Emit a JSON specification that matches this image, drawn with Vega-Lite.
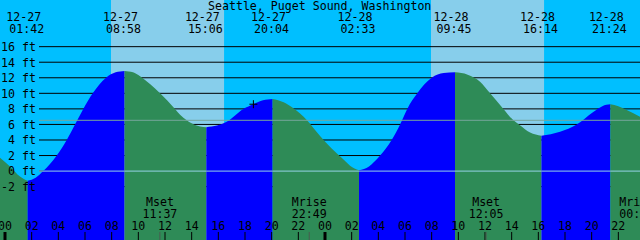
{
  "$schema": "https://vega.github.io/schema/vega-lite/v6.json",
  "width": 640,
  "height": 240,
  "autosize": {"type": "none"},
  "padding": 0,
  "background": "#00BFFF",
  "config": {"view": {"stroke": null}, "text": {"font": "DejaVu Sans Mono", "fontSize": 11.6, "color": "#000000"}},
  "datasets": {
    "daylight": [{"sunrise": 7.95, "sunset": 16.43}, {"sunrise": 31.95, "sunset": 40.43}],
    "levels": [
      {"ft": -2, "label": "-2 ft"}, {"ft": 0, "label": "0 ft"}, {"ft": 2, "label": "2 ft"}, {"ft": 4, "label": "4 ft"},
      {"ft": 6, "label": "6 ft"}, {"ft": 8, "label": "8 ft"}, {"ft": 10, "label": "10 ft"}, {"ft": 12, "label": "12 ft"},
      {"ft": 14, "label": "14 ft"}, {"ft": 16, "label": "16 ft"}
    ],
    "datums": [{"ft": 0, "name": "zero"}, {"ft": 6.53, "name": "mean"}],
    "tide": [
      {"t": -0.375, "ft": 1.7, "seg": "s0", "dir": "fall"}, {"t": 0.375, "ft": 0.6, "seg": "s0", "dir": "fall"}, {"t": 1.125, "ft": -0.7, "seg": "s0", "dir": "fall"}, {"t": 1.7, "ft": -1.25, "seg": "s0", "dir": "fall"},
      {"t": 1.7, "ft": -1.25, "seg": "s1", "dir": "rise"}, {"t": 2.3, "ft": -0.85, "seg": "s1", "dir": "rise"}, {"t": 2.87, "ft": 0, "seg": "s1", "dir": "rise"}, {"t": 3.88, "ft": 2, "seg": "s1", "dir": "rise"}, {"t": 4.63, "ft": 4, "seg": "s1", "dir": "rise"}, {"t": 5.25, "ft": 6, "seg": "s1", "dir": "rise"}, {"t": 5.87, "ft": 8, "seg": "s1", "dir": "rise"}, {"t": 6.58, "ft": 10, "seg": "s1", "dir": "rise"}, {"t": 7.58, "ft": 12, "seg": "s1", "dir": "rise"}, {"t": 8.3, "ft": 12.7, "seg": "s1", "dir": "rise"}, {"t": 8.967, "ft": 12.87, "seg": "s1", "dir": "rise"},
      {"t": 8.967, "ft": 12.87, "seg": "s2", "dir": "fall"}, {"t": 9.6, "ft": 12.7, "seg": "s2", "dir": "fall"}, {"t": 10.13, "ft": 12.2, "seg": "s2", "dir": "fall"}, {"t": 10.875, "ft": 11.2, "seg": "s2", "dir": "fall"}, {"t": 11.63, "ft": 10.0, "seg": "s2", "dir": "fall"}, {"t": 12.75, "ft": 8.0, "seg": "s2", "dir": "fall"}, {"t": 13.13, "ft": 7.25, "seg": "s2", "dir": "fall"}, {"t": 13.63, "ft": 6.53, "seg": "s2", "dir": "fall"}, {"t": 13.88, "ft": 6.25, "seg": "s2", "dir": "fall"}, {"t": 14.63, "ft": 5.75, "seg": "s2", "dir": "fall"}, {"t": 15.1, "ft": 5.65, "seg": "s2", "dir": "fall"},
      {"t": 15.1, "ft": 5.65, "seg": "s3", "dir": "rise"}, {"t": 15.9, "ft": 5.85, "seg": "s3", "dir": "rise"}, {"t": 16.63, "ft": 6.35, "seg": "s3", "dir": "rise"}, {"t": 17.88, "ft": 8.0, "seg": "s3", "dir": "rise"}, {"t": 18.63, "ft": 8.6, "seg": "s3", "dir": "rise"}, {"t": 19.35, "ft": 9.1, "seg": "s3", "dir": "rise"}, {"t": 20.067, "ft": 9.27, "seg": "s3", "dir": "rise"},
      {"t": 20.067, "ft": 9.27, "seg": "s4", "dir": "fall"}, {"t": 20.9, "ft": 8.85, "seg": "s4", "dir": "fall"}, {"t": 21.63, "ft": 8.07, "seg": "s4", "dir": "fall"}, {"t": 22.63, "ft": 6.57, "seg": "s4", "dir": "fall"}, {"t": 23.63, "ft": 4.5, "seg": "s4", "dir": "fall"}, {"t": 24.5, "ft": 2.9, "seg": "s4", "dir": "fall"}, {"t": 25.25, "ft": 1.7, "seg": "s4", "dir": "fall"}, {"t": 25.88, "ft": 0.7, "seg": "s4", "dir": "fall"}, {"t": 26.55, "ft": 0.1, "seg": "s4", "dir": "fall"},
      {"t": 26.55, "ft": 0.1, "seg": "s5", "dir": "rise"}, {"t": 27.3, "ft": 0.6, "seg": "s5", "dir": "rise"}, {"t": 28.13, "ft": 2, "seg": "s5", "dir": "rise"}, {"t": 29.0, "ft": 4, "seg": "s5", "dir": "rise"}, {"t": 29.63, "ft": 6, "seg": "s5", "dir": "rise"}, {"t": 30.17, "ft": 8, "seg": "s5", "dir": "rise"}, {"t": 30.92, "ft": 10, "seg": "s5", "dir": "rise"}, {"t": 32.0, "ft": 12, "seg": "s5", "dir": "rise"}, {"t": 32.9, "ft": 12.6, "seg": "s5", "dir": "rise"}, {"t": 33.75, "ft": 12.7, "seg": "s5", "dir": "rise"},
      {"t": 33.75, "ft": 12.7, "seg": "s6", "dir": "fall"}, {"t": 34.7, "ft": 12.4, "seg": "s6", "dir": "fall"}, {"t": 35.63, "ft": 11.5, "seg": "s6", "dir": "fall"}, {"t": 36.38, "ft": 10, "seg": "s6", "dir": "fall"}, {"t": 37.38, "ft": 8, "seg": "s6", "dir": "fall"}, {"t": 38.13, "ft": 6.53, "seg": "s6", "dir": "fall"}, {"t": 38.57, "ft": 5.95, "seg": "s6", "dir": "fall"}, {"t": 39.38, "ft": 4.95, "seg": "s6", "dir": "fall"}, {"t": 40.233, "ft": 4.55, "seg": "s6", "dir": "fall"},
      {"t": 40.233, "ft": 4.55, "seg": "s7", "dir": "rise"}, {"t": 41.63, "ft": 5.07, "seg": "s7", "dir": "rise"}, {"t": 42.88, "ft": 6.0, "seg": "s7", "dir": "rise"}, {"t": 44.12, "ft": 7.6, "seg": "s7", "dir": "rise"}, {"t": 44.8, "ft": 8.35, "seg": "s7", "dir": "rise"}, {"t": 45.4, "ft": 8.58, "seg": "s7", "dir": "rise"},
      {"t": 45.4, "ft": 8.58, "seg": "s8", "dir": "fall"}, {"t": 46.0, "ft": 8.35, "seg": "s8", "dir": "fall"}, {"t": 46.63, "ft": 7.85, "seg": "s8", "dir": "fall"}, {"t": 47.625, "ft": 7.0, "seg": "s8", "dir": "fall"}
    ],
    "tides": [
      {"t": 1.7, "date": "12-27", "time": "01:42"}, {"t": 8.967, "date": "12-27", "time": "08:58"},
      {"t": 15.1, "date": "12-27", "time": "15:06"}, {"t": 20.067, "date": "12-27", "time": "20:04"},
      {"t": 26.55, "date": "12-28", "time": "02:33"}, {"t": 33.75, "date": "12-28", "time": "09:45"},
      {"t": 40.233, "date": "12-28", "time": "16:14"}, {"t": 45.4, "date": "12-28", "time": "21:24"}
    ],
    "hours": [
      {"t": 0, "label": "00", "midnight": true}, {"t": 2, "label": "02", "midnight": false}, {"t": 4, "label": "04", "midnight": false}, {"t": 6, "label": "06", "midnight": false},
      {"t": 8, "label": "08", "midnight": false}, {"t": 10, "label": "10", "midnight": false}, {"t": 12, "label": "12", "midnight": false}, {"t": 14, "label": "14", "midnight": false},
      {"t": 16, "label": "16", "midnight": false}, {"t": 18, "label": "18", "midnight": false}, {"t": 20, "label": "20", "midnight": false}, {"t": 22, "label": "22", "midnight": false},
      {"t": 24, "label": "00", "midnight": true}, {"t": 26, "label": "02", "midnight": false}, {"t": 28, "label": "04", "midnight": false}, {"t": 30, "label": "06", "midnight": false},
      {"t": 32, "label": "08", "midnight": false}, {"t": 34, "label": "10", "midnight": false}, {"t": 36, "label": "12", "midnight": false}, {"t": 38, "label": "14", "midnight": false},
      {"t": 40, "label": "16", "midnight": false}, {"t": 42, "label": "18", "midnight": false}, {"t": 44, "label": "20", "midnight": false}, {"t": 46, "label": "22", "midnight": false}
    ],
    "moon": [
      {"t": 11.617, "event": "Mset", "time": "11:37", "inview": true},
      {"t": 22.817, "event": "Mrise", "time": "22:49", "inview": true},
      {"t": 36.083, "event": "Mset", "time": "12:05", "inview": true},
      {"t": 47.38, "event": "Mrise", "time": "00:04", "inview": false}
    ],
    "marker": [{"t": 18.63, "ft": 8.6}],
    "title": [{"name": "Seattle, Puget Sound, Washington"}]
  },
  "layer": [
    {
      "data": {"name": "daylight"},
      "mark": {"type": "rect", "color": "#87CEEB"},
      "encoding": {
        "x": {"field": "sunrise", "type": "quantitative", "scale": {"domain": [-0.375, 47.625], "nice": false, "zero": false}, "axis": null},
        "x2": {"field": "sunset"}
      }
    },
    {
      "data": {"name": "levels"},
      "mark": {"type": "rule", "color": "#000000", "strokeWidth": 1},
      "encoding": {
        "y": {"field": "ft", "type": "quantitative", "scale": {"domain": [-8.86, 22.0], "nice": false, "zero": false}, "axis": null},
        "x": {"datum": 2.55, "type": "quantitative", "scale": {"domain": [-0.375, 47.625], "nice": false, "zero": false}, "axis": null},
        "x2": {"datum": 47.625}
      }
    },
    {
      "data": {"name": "tide"},
      "mark": {"type": "area", "interpolate": "monotone"},
      "encoding": {
        "x": {"field": "t", "type": "quantitative", "scale": {"domain": [-0.375, 47.625], "nice": false, "zero": false}, "axis": null},
        "y": {"field": "ft", "type": "quantitative", "scale": {"domain": [-8.86, 22.0], "nice": false, "zero": false}, "axis": null},
        "y2": {"datum": -8.86},
        "color": {"field": "dir", "type": "nominal", "scale": {"domain": ["rise", "fall"], "range": ["#0000FF", "#2E8B57"]}, "legend": null},
        "detail": {"field": "seg"}
      }
    },
    {
      "data": {"name": "datums"},
      "transform": [{"filter": "datum.name == 'zero'"}],
      "mark": {"type": "rule", "color": "#96D2E6", "strokeWidth": 1},
      "encoding": {
        "y": {"field": "ft", "type": "quantitative", "scale": {"domain": [-8.86, 22.0], "nice": false, "zero": false}, "axis": null},
        "x": {"datum": 2.55, "type": "quantitative", "scale": {"domain": [-0.375, 47.625], "nice": false, "zero": false}, "axis": null},
        "x2": {"datum": 47.625}
      }
    },
    {
      "data": {"name": "datums"},
      "transform": [{"filter": "datum.name == 'mean'"}],
      "mark": {"type": "rule", "color": "#76A59C", "strokeWidth": 1},
      "encoding": {
        "y": {"field": "ft", "type": "quantitative", "scale": {"domain": [-8.86, 22.0], "nice": false, "zero": false}, "axis": null},
        "x": {"datum": 2.55, "type": "quantitative", "scale": {"domain": [-0.375, 47.625], "nice": false, "zero": false}, "axis": null},
        "x2": {"datum": 47.625}
      }
    },
    {
      "data": {"name": "hours"},
      "transform": [{"filter": "!datum.midnight"}],
      "mark": {"type": "rule", "color": "#000000", "strokeWidth": 1},
      "encoding": {
        "x": {"field": "t", "type": "quantitative", "scale": {"domain": [-0.375, 47.625], "nice": false, "zero": false}, "axis": null},
        "y": {"datum": -7.83, "type": "quantitative", "scale": {"domain": [-8.86, 22.0], "nice": false, "zero": false}, "axis": null},
        "y2": {"datum": -8.86}
      }
    },
    {
      "data": {"name": "hours"},
      "transform": [{"filter": "datum.midnight"}],
      "mark": {"type": "rule", "color": "#000000", "strokeWidth": 3},
      "encoding": {
        "x": {"field": "t", "type": "quantitative", "scale": {"domain": [-0.375, 47.625], "nice": false, "zero": false}, "axis": null},
        "y": {"datum": -7.83, "type": "quantitative", "scale": {"domain": [-8.86, 22.0], "nice": false, "zero": false}, "axis": null},
        "y2": {"datum": -8.86}
      }
    },
    {
      "data": {"name": "moon"},
      "transform": [{"filter": "datum.inview"}],
      "mark": {"type": "rule", "color": "#4A5A50", "strokeWidth": 1},
      "encoding": {
        "x": {"field": "t", "type": "quantitative", "scale": {"domain": [-0.375, 47.625], "nice": false, "zero": false}, "axis": null},
        "y": {"datum": -7.83, "type": "quantitative", "scale": {"domain": [-8.86, 22.0], "nice": false, "zero": false}, "axis": null},
        "y2": {"datum": -8.86}
      }
    },
    {
      "data": {"name": "hours"},
      "mark": {"type": "text", "align": "center", "baseline": "alphabetic"},
      "encoding": {
        "x": {"field": "t", "type": "quantitative", "scale": {"domain": [-0.375, 47.625], "nice": false, "zero": false}, "axis": null},
        "y": {"datum": -7.57, "type": "quantitative", "scale": {"domain": [-8.86, 22.0], "nice": false, "zero": false}, "axis": null},
        "text": {"field": "label"}
      }
    },
    {
      "data": {"name": "moon"},
      "mark": {"type": "text", "align": "center", "baseline": "alphabetic"},
      "encoding": {
        "x": {"field": "t", "type": "quantitative", "scale": {"domain": [-0.375, 47.625], "nice": false, "zero": false}, "axis": null},
        "y": {"datum": -4.49, "type": "quantitative", "scale": {"domain": [-8.86, 22.0], "nice": false, "zero": false}, "axis": null},
        "text": {"field": "event"}
      }
    },
    {
      "data": {"name": "moon"},
      "mark": {"type": "text", "align": "center", "baseline": "alphabetic"},
      "encoding": {
        "x": {"field": "t", "type": "quantitative", "scale": {"domain": [-0.375, 47.625], "nice": false, "zero": false}, "axis": null},
        "y": {"datum": -5.99, "type": "quantitative", "scale": {"domain": [-8.86, 22.0], "nice": false, "zero": false}, "axis": null},
        "text": {"field": "time"}
      }
    },
    {
      "data": {"name": "tides"},
      "mark": {"type": "text", "align": "center", "baseline": "alphabetic", "dx": -4},
      "encoding": {
        "x": {"field": "t", "type": "quantitative", "scale": {"domain": [-0.375, 47.625], "nice": false, "zero": false}, "axis": null},
        "y": {"datum": 19.33, "type": "quantitative", "scale": {"domain": [-8.86, 22.0], "nice": false, "zero": false}, "axis": null},
        "text": {"field": "date"}
      }
    },
    {
      "data": {"name": "tides"},
      "mark": {"type": "text", "align": "center", "baseline": "alphabetic", "dx": -1},
      "encoding": {
        "x": {"field": "t", "type": "quantitative", "scale": {"domain": [-0.375, 47.625], "nice": false, "zero": false}, "axis": null},
        "y": {"datum": 17.71, "type": "quantitative", "scale": {"domain": [-8.86, 22.0], "nice": false, "zero": false}, "axis": null},
        "text": {"field": "time"}
      }
    },
    {
      "data": {"name": "levels"},
      "mark": {"type": "text", "align": "right", "baseline": "alphabetic", "dy": 4.3},
      "encoding": {
        "x": {"datum": 2.325, "type": "quantitative", "scale": {"domain": [-0.375, 47.625], "nice": false, "zero": false}, "axis": null},
        "y": {"field": "ft", "type": "quantitative", "scale": {"domain": [-8.86, 22.0], "nice": false, "zero": false}, "axis": null},
        "text": {"field": "label"}
      }
    },
    {
      "data": {"name": "title"},
      "mark": {"type": "text", "align": "center", "baseline": "alphabetic"},
      "encoding": {
        "x": {"datum": 23.6, "type": "quantitative", "scale": {"domain": [-0.375, 47.625], "nice": false, "zero": false}, "axis": null},
        "y": {"datum": 20.71, "type": "quantitative", "scale": {"domain": [-8.86, 22.0], "nice": false, "zero": false}, "axis": null},
        "text": {"field": "name"}
      }
    },
    {
      "data": {"name": "marker"},
      "mark": {"type": "point", "shape": "M-1,0L1,0M0,-1L0,1", "filled": false, "stroke": "#000000", "strokeWidth": 1, "size": 64, "opacity": 1},
      "encoding": {
        "x": {"field": "t", "type": "quantitative", "scale": {"domain": [-0.375, 47.625], "nice": false, "zero": false}, "axis": null},
        "y": {"field": "ft", "type": "quantitative", "scale": {"domain": [-8.86, 22.0], "nice": false, "zero": false}, "axis": null}
      }
    }
  ]
}
